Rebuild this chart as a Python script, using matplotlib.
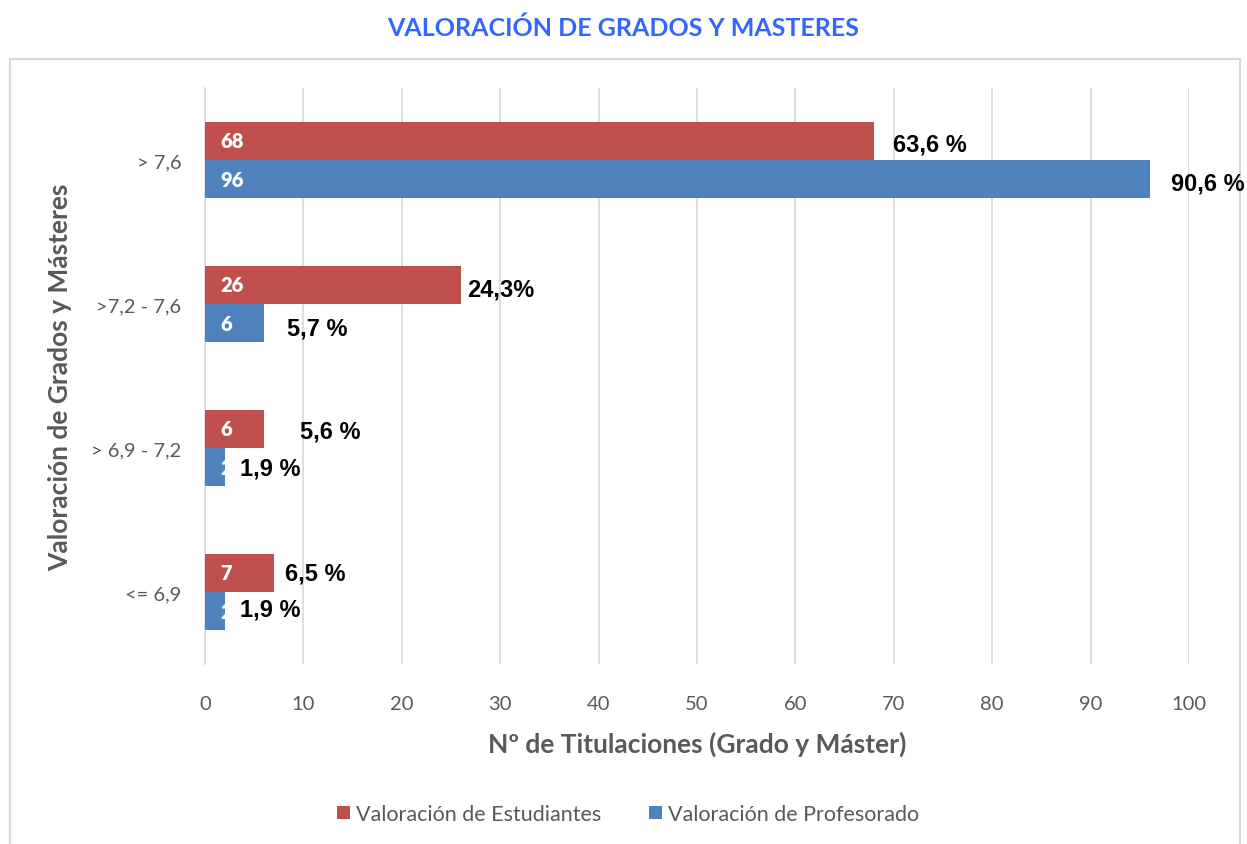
import matplotlib
matplotlib.use("Agg")
import matplotlib.pyplot as plt
import numpy as np
from matplotlib.patches import Rectangle

categories = ["> 7,6", ">7,2 - 7,6", "> 6,9 - 7,2", "<= 6,9"]
estudiantes = [68, 26, 6, 7]
profesorado = [96, 6, 2, 2]
pct_estudiantes = ["63,6 %", "24,3%", "5,6 %", "6,5 %"]
pct_profesorado = ["90,6 %", "5,7 %", "1,9 %", "1,9 %"]
xticks = [0, 10, 20, 30, 40, 50, 60, 70, 80, 90, 100]

# label offsets (pixels) for the percentage annotations
off_est = [(19, -3), (6, -4), (36, -2), (11, 0)]
off_pro = [(21, -4), (23, -5), (15, -1), (15, 2)]

RED = "#C0504D"
BLUE = "#4F81BD"
GRAY = "#595959"
SANS = ["Lato", "DejaVu Sans"]
ARIAL = ["Liberation Sans", "DejaVu Sans"]

fig = plt.figure(figsize=(12.47, 8.45), dpi=100)
ax = fig.add_axes([205/1247, 1-665/845, (1189-205)/1247, (665-89)/845])

# outer border (behind everything)
border = Rectangle((10/1247, -0.01), (1240-10)/1247, 1-60/845+0.01,
                   transform=fig.transFigure, fill=False,
                   edgecolor="#D9D9D9", linewidth=1.5, zorder=-5)
fig.patches.append(border)

y = np.arange(len(categories))
h = 0.262
bars_e = ax.barh(y - h/2 - 0.003, estudiantes, height=h, color=RED,
                 label="Valoración de Estudiantes", zorder=3)
bars_p = ax.barh(y + h/2 + 0.003, profesorado, height=h, color=BLUE,
                 label="Valoración de Profesorado", zorder=3)

for bars, vals in ((bars_e, estudiantes), (bars_p, profesorado)):
    for b, v in zip(bars, vals):
        t = ax.annotate(str(v), (0, b.get_y() + b.get_height()/2),
                        xytext=(15, 0), textcoords="offset pixels",
                        ha="left", va="center", color="white",
                        fontsize=14.5, fontweight="heavy", family=SANS, zorder=4)
        t.set_clip_path(b)

for bars, vals, labs, offs in ((bars_e, estudiantes, pct_estudiantes, off_est),
                               (bars_p, profesorado, pct_profesorado, off_pro)):
    for b, v, l, o in zip(bars, vals, labs, offs):
        ax.annotate(l, (v, b.get_y() + b.get_height()/2), xytext=o,
                    textcoords="offset pixels", ha="left", va="center",
                    color="black", fontsize=17, fontweight="bold",
                    family=ARIAL, zorder=5, annotation_clip=False)

ax.set_xlim(0, 100)
ax.set_ylim(3.5, -0.5)
ax.set_xticks(xticks)
ax.set_xticklabels([str(v) for v in xticks], fontsize=14.5, color=GRAY, family=SANS)
ax.set_yticks(y)
ax.set_yticklabels(categories, fontsize=14.5, color=GRAY, family=SANS)
ax.tick_params(axis="both", length=0)
ax.tick_params(axis="x", pad=22)
ax.tick_params(axis="y", pad=17)
ax.grid(axis="x", color="#D9D9D9", linewidth=1.2, zorder=0)
for s in ("top", "right", "bottom"):
    ax.spines[s].set_visible(False)
ax.spines["left"].set_color("#D9D9D9")
ax.spines["left"].set_linewidth(1.2)

ax.set_xlabel("Nº de Titulaciones (Grado y Máster)", fontsize=19,
              fontweight="bold", color=GRAY, family=SANS, labelpad=14)
ax.set_ylabel("Valoración de Grados y Másteres", fontsize=19,
              fontweight="bold", color=GRAY, family=SANS, labelpad=14)

fig.text(623/1247, 1-28/845, "VALORACIÓN DE GRADOS Y MASTERES", ha="center",
         va="center", fontsize=18, fontweight="bold", color="#3366FF", family=SANS)

leg = fig.legend(handles=[bars_e, bars_p], loc="center",
                 bbox_to_anchor=(628/1247, 1-815/845), ncol=2, frameon=False,
                 prop={"family": SANS, "size": 15.5}, handlelength=0.6,
                 handleheight=0.6, handletextpad=0.3, columnspacing=2.2)
for t in leg.get_texts():
    t.set_color(GRAY)

fig.savefig("out.png", dpi=100)
